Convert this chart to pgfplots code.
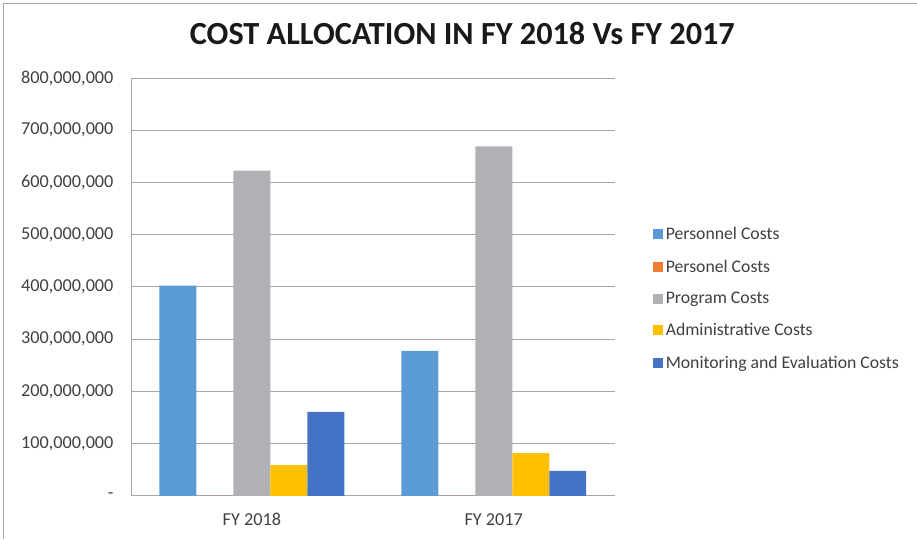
\documentclass[border=0pt]{standalone}
\usepackage{fontspec}
\setmainfont{Carlito}
\usepackage{pgfplots}
\pgfplotsset{compat=1.18}
\definecolor{cPers}{HTML}{5B9BD5}
\definecolor{cPersonel}{HTML}{ED7D31}
\definecolor{cProg}{HTML}{B0B1B5}
\definecolor{cAdm}{HTML}{FFC000}
\definecolor{cME}{HTML}{4472C4}
\definecolor{txt}{HTML}{404040}
\definecolor{gridc}{HTML}{A6A6A6}
\begin{document}
\begin{tikzpicture}[x=1bp,y=1bp]
\begin{axis}[
  at={(0bp,0bp)}, anchor=south west,
  scale only axis, width=484bp, height=418bp,
  ybar=0pt, bar width=37bp,
  xmin=-0.5, xmax=1.5, ymin=0, ymax=800000000,
  xtick={0,1}, xticklabels={FY 2018, FY 2017},
  ytick={0,100000000,200000000,300000000,400000000,500000000,600000000,700000000,800000000},
  yticklabels={{-\hspace{12bp}},{100,000,000},{200,000,000},{300,000,000},{400,000,000},{500,000,000},{600,000,000},{700,000,000},{800,000,000}},
  scaled y ticks=false,
  major tick length=0pt,
  ymajorgrids, grid style={gridc, line width=0.8bp},
  axis x line*=bottom, axis y line*=left,
  axis line style={gridc, line width=0.8bp},
  tick label style={font=\fontsize{18.3}{21}\selectfont, text=txt},
  yticklabel style={xshift=-14bp},
  xticklabel style={yshift=-14bp},
  title={\fontsize{32.4}{38}\selectfont\bfseries COST ALLOCATION IN FY 2018 Vs FY 2017},
  title style={at={(rel axis cs:0.685,1.091)}, anchor=center, text=black!90},
  legend style={at={(rel axis cs:1.072,0.652)}, anchor=north west, draw=none,
    font=\fontsize{17.8}{21}\selectfont, text=txt, row sep=14.5bp,
    legend cell align=left,
    nodes={inner xsep=3bp}},
  legend image code/.code={\fill[#1] (0bp,-5bp) rectangle (10bp,5bp);},
]
\addplot[fill=cPers, draw=none] coordinates {(0,402500000) (1,277500000)};
\addplot[fill=cPersonel, draw=none] coordinates {(0,0) (1,0)};
\addplot[fill=cProg, draw=none] coordinates {(0,622600000) (1,669000000)};
\addplot[fill=cAdm, draw=none] coordinates {(0,58700000) (1,81700000)};
\addplot[fill=cME, draw=none] coordinates {(0,160800000) (1,47800000)};
\legend{Personnel Costs, Personel Costs, Program Costs, Administrative Costs, Monitoring and Evaluation Costs}
\end{axis}
\draw[gridc, line width=0.8bp] (-128bp,-43bp) -- (-128bp,493bp) -- (786bp,493bp);
\path[use as bounding box] (-131bp,-43bp) rectangle (786bp,496bp);
\end{tikzpicture}
\end{document}
